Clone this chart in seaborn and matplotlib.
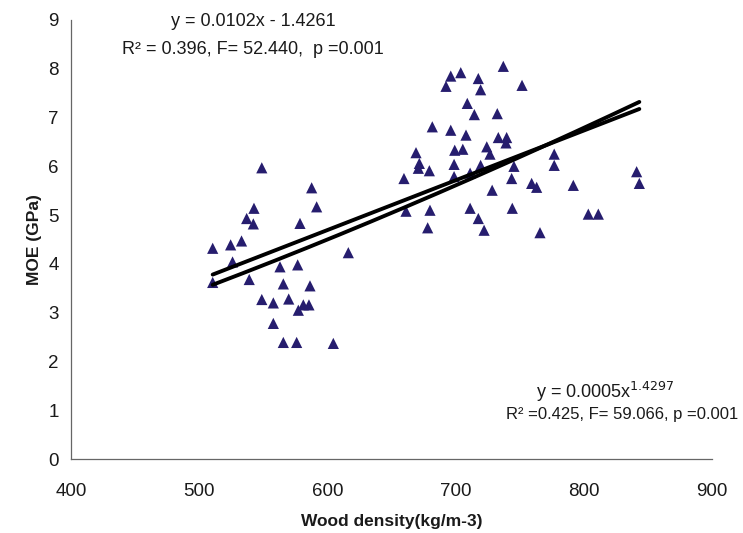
import numpy as np
import pandas as pd
import matplotlib
matplotlib.use("Agg")
import matplotlib.pyplot as plt
import seaborn as sns

# ---- data ----
density = [
    510.5, 524.5, 533.0, 526.0, 537.0, 542.7, 542.2, 548.8, 587.7, 591.6,
    578.6, 616.3, 563.0, 576.8, 510.5, 539.0, 565.6, 586.4, 548.8, 557.8,
    569.8, 577.3, 581.2, 585.6, 557.8, 565.6, 576.0, 604.6,
    737.2, 696.2, 704.0, 692.5, 717.7, 719.5, 751.8, 709.1, 714.6, 732.5,
    681.8, 696.2, 708.1, 733.3, 739.8, 739.3, 724.3, 726.8, 699.3, 705.6,
    669.1, 671.7, 670.9, 679.5, 698.8, 719.5, 745.5, 776.9, 776.9, 659.7,
    698.8, 711.3, 743.7, 759.3, 763.2, 728.5, 661.3, 680.0, 711.3, 744.2,
    717.7, 678.2, 722.2, 765.8,
    791.8, 841.2, 843.3, 803.5, 811.3,
]
moe = [
    4.32, 4.39, 4.47, 4.04, 4.93, 5.14, 4.82, 5.97, 5.56, 5.17,
    4.83, 4.23, 3.94, 3.98, 3.62, 3.68, 3.59, 3.55, 3.27, 3.20,
    3.28, 3.05, 3.16, 3.16, 2.78, 2.39, 2.39, 2.37,
    8.05, 7.85, 7.92, 7.64, 7.80, 7.57, 7.66, 7.29, 7.06, 7.08,
    6.81, 6.74, 6.64, 6.59, 6.59, 6.48, 6.40, 6.25, 6.33, 6.35,
    6.28, 6.06, 5.96, 5.91, 6.04, 6.02, 6.00, 6.25, 6.02, 5.75,
    5.79, 5.86, 5.75, 5.65, 5.57, 5.51, 5.08, 5.10, 5.14, 5.14,
    4.93, 4.74, 4.69, 4.64,
    5.61, 5.89, 5.65, 5.02, 5.02,
]

# trend lines (linear and power), coefficients as drawn
lin_slope, lin_intercept = 0.0102, -1.4261
pow_coef, pow_exp = 0.00048, 1.4297

x_ticks = [400, 500, 600, 700, 800, 900]
y_ticks = [0, 1, 2, 3, 4, 5, 6, 7, 8, 9]

lin_label = ["y = 0.0102x - 1.4261", "R\u00b2 = 0.396, F= 52.440,  p =0.001"]
pow_label_base = "y = 0.0005x"
pow_label_exp = "1.4297"
pow_label_stats = "R\u00b2 =0.425, F= 59.066, p =0.001"

# ---- plotting ----
sns.set_style("white")
plt.rcParams["font.family"] = ["Liberation Sans", "DejaVu Sans"]

df = pd.DataFrame({"density": density, "moe": moe})

fig = plt.figure(figsize=(7.43, 5.33), dpi=100)
ax = fig.add_axes([0.0956, 0.1388, 0.9583 - 0.0956, 0.9625 - 0.1388])

sns.scatterplot(data=df, x="density", y="moe", marker="^", s=65,
                color="#261D6E", edgecolor="none", ax=ax, zorder=3)

xs = np.linspace(min(density), max(density), 200)
sns.lineplot(x=xs, y=lin_slope * xs + lin_intercept, color="black",
             linewidth=2.8, ax=ax, zorder=4)
sns.lineplot(x=xs, y=pow_coef * xs ** pow_exp, color="black",
             linewidth=2.8, ax=ax, zorder=4)

ax.set_xlim(x_ticks[0], x_ticks[-1])
ax.set_ylim(y_ticks[0], y_ticks[-1])
ax.set_xticks(x_ticks)
ax.set_yticks(y_ticks)
ax.tick_params(axis="both", direction="out", length=5, width=0.8,
               color="#666666", labelsize=13.5, labelcolor="#1a1a1a", pad=4)
ax.tick_params(axis="x", pad=12)

for s in ["top", "right"]:
    ax.spines[s].set_visible(False)
for s in ["left", "bottom"]:
    ax.spines[s].set_color("#666666")
    ax.spines[s].set_linewidth(0.9)

ax.set_xlabel("Wood density(kg/m-3)", fontsize=12.5, fontweight="bold",
              color="#1a1a1a", labelpad=10)
ax.set_ylabel("MOE (GPa)", fontsize=12.5, fontweight="bold",
              color="#1a1a1a", labelpad=4)

# annotations
fig.text(253 / 743, 1 - 21 / 533, lin_label[0], ha="center", va="center",
         fontsize=13, color="#1a1a1a")
fig.text(253 / 743, 1 - 50 / 533, lin_label[1], ha="center", va="center",
         fontsize=13, color="#1a1a1a")
fig.text(605 / 743, 1 - 392 / 533,
         pow_label_base + "$^{" + pow_label_exp + "}$",
         ha="center", va="center", fontsize=13, color="#1a1a1a")
fig.text(738 / 743, 1 - 415 / 533, pow_label_stats, ha="right", va="center",
         fontsize=12, color="#1a1a1a")

fig.savefig("out.png", dpi=100)
